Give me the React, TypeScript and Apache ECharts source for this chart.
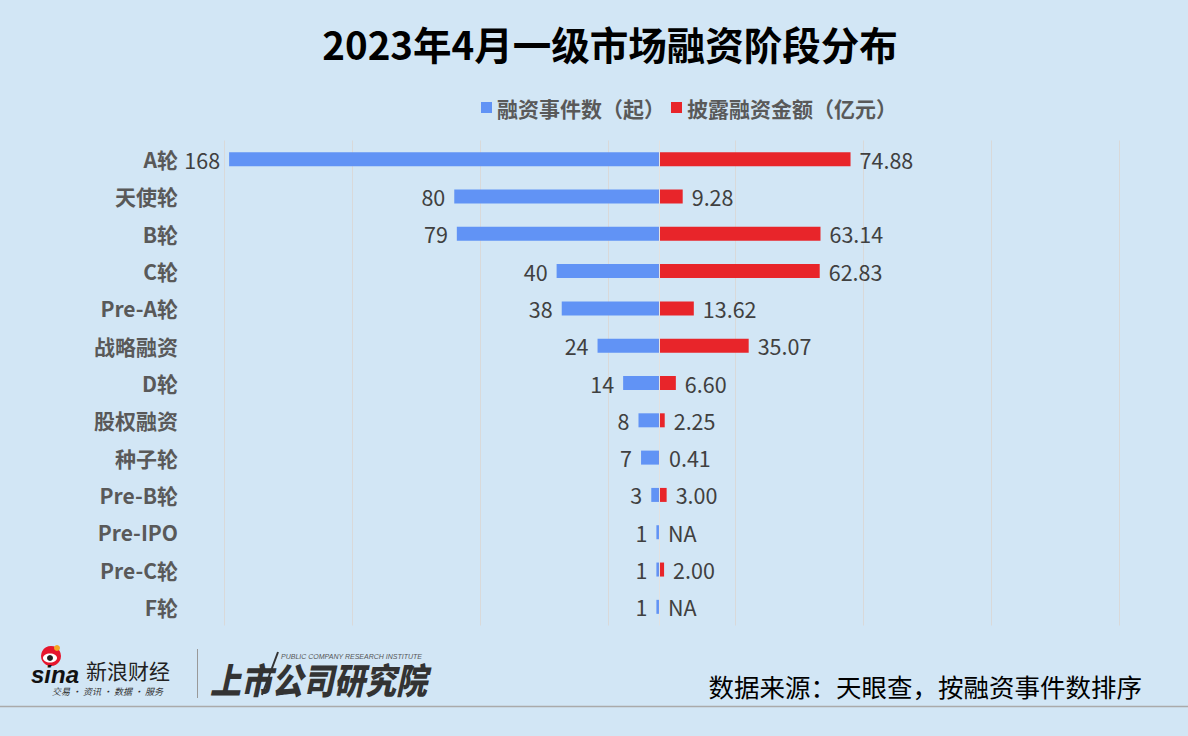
import React, { useEffect, useRef } from "react";
import * as echarts from "echarts";

const categories = ["A轮", "天使轮", "B轮", "C轮", "Pre-A轮", "战略融资", "D轮", "股权融资", "种子轮", "Pre-B轮", "Pre-IPO", "Pre-C轮", "F轮"];
const eventCounts = [168, 80, 79, 40, 38, 24, 14, 8, 7, 3, 1, 1, 1];
const amounts: (number | null)[] = [74.88, 9.28, 63.14, 62.83, 13.62, 35.07, 6.6, 2.25, 0.41, 3.0, null, 2.0, null];
const seriesNames = ["融资事件数（起）", "披露融资金额（亿元）"];
const titleText = "2023年4月一级市场融资阶段分布";
const sourceText = "数据来源：天眼查，按融资事件数排序";

const BLUE = "#6193F5";
const RED = "#E8252A";
const BG = "#D2E6F5";
const FONT = "'Noto Sans CJK SC', 'Noto Sans', sans-serif";

export default function App() {
  const ref = useRef<HTMLDivElement>(null);
  useEffect(() => {
    if (!ref.current) return;
    const chart = echarts.init(ref.current, undefined, { renderer: "svg" });
    const option: any = {
      animation: false,
      backgroundColor: BG,
      textStyle: { fontFamily: FONT },
      legend: {
        left: 481,
        top: 97,
        padding: 0,
        itemWidth: 11,
        itemHeight: 11,
        itemGap: 6,
        icon: "rect",
        textStyle: { fontSize: 21, fontWeight: "bold", color: "#595959", fontFamily: FONT },
        data: seriesNames,
      },
      grid: { left: 224, right: 68.5, top: 140.5, bottom: 110.5, containLabel: false },
      xAxis: [
        { type: "value", min: -170, max: 180, show: false },
        {
          type: "value",
          min: 0,
          max: 350,
          interval: 50,
          position: "top",
          axisLabel: { show: false },
          axisLine: { show: false },
          axisTick: { show: false },
          splitLine: { show: true, lineStyle: { color: "#D9D9D9", width: 1 } },
        },
      ],
      yAxis: {
        type: "category",
        inverse: true,
        data: categories,
        axisLine: { show: false, onZero: false },
        axisTick: { show: false },
        axisLabel: { fontSize: 21, fontWeight: "bold", color: "#595959", margin: 46, fontFamily: FONT },
      },
      series: [
        {
          name: seriesNames[0],
          type: "bar",
          xAxisIndex: 0,
          barWidth: 14,
          barGap: "-100%",
          itemStyle: { color: BLUE },
          data: eventCounts.map((v) => -v),
          label: {
            show: true,
            position: "left",
            distance: 9,
            fontSize: 21.5,
            color: "#404040",
            fontFamily: FONT,
            formatter: (p: any) => String(Math.abs(p.value)),
          },
        },
        {
          name: seriesNames[1],
          type: "bar",
          xAxisIndex: 0,
          barWidth: 14,
          barGap: "-100%",
          itemStyle: { color: RED },
          data: amounts.map((v) => (v === null ? { value: 0, label: { formatter: "NA" } } : v)),
          label: {
            show: true,
            position: "right",
            distance: 9,
            fontSize: 21.5,
            color: "#404040",
            fontFamily: FONT,
            formatter: (p: any) => Number(p.value).toFixed(2),
          },
          markLine: {
            silent: true,
            symbol: "none",
            label: { show: false },
            lineStyle: { color: "#E2E2E2", width: 1, type: "solid" },
            data: [{ xAxis: 0 }],
          },
        },
      ],
      graphic: [
        {
          type: "text",
          x: 610,
          y: 43,
          style: {
            text: titleText,
            font: `bold 38.5px ${FONT}`,
            fill: "#000000",
            textAlign: "center",
            textVerticalAlign: "middle",
          },
        },
        {
          type: "text",
          x: 1142,
          y: 685,
          style: {
            text: sourceText,
            font: `25.5px ${FONT}`,
            fill: "#000000",
            textAlign: "right",
            textVerticalAlign: "middle",
          },
        },
        { type: "line", shape: { x1: 0, y1: 706.5, x2: 1188, y2: 706.5 }, style: { stroke: "#AAAAAA", lineWidth: 1.5 } },
        // sina logo
        { type: "circle", shape: { cx: 51, cy: 656, r: 10 }, style: { fill: "#E6162D" } },
        { type: "circle", shape: { cx: 57, cy: 648, r: 3 }, style: { fill: "#F5A623" } },
        { type: "ellipse", shape: { cx: 50, cy: 658, rx: 7, ry: 4.5 }, style: { fill: "#FFFFFF" } },
        { type: "circle", shape: { cx: 50, cy: 658, r: 3 }, style: { fill: "#222222" } },
        {
          type: "text",
          x: 31,
          y: 674,
          style: { text: "sina", font: `italic bold 24px 'Liberation Sans', sans-serif`, fill: "#111111", textVerticalAlign: "middle" },
        },
        {
          type: "text",
          x: 86,
          y: 670,
          style: { text: "新浪财经", font: `21px ${FONT}`, fill: "#222222", textVerticalAlign: "middle" },
        },
        {
          type: "text",
          x: 52,
          y: 691,
          style: { text: "交易 · 资讯 · 数据 · 服务", font: `italic 9px ${FONT}`, fill: "#333333", textVerticalAlign: "middle" },
        },
        { type: "line", shape: { x1: 197.5, y1: 649, x2: 197.5, y2: 698 }, style: { stroke: "#999999", lineWidth: 1 } },
        {
          type: "text",
          x: 210,
          y: 679,
          scaleY: 1.15,
          style: { text: "上市公司研究院", font: `italic 900 31px ${FONT}`, fill: "#333333", textVerticalAlign: "middle" },
        },
        {
          type: "text",
          x: 281,
          y: 656,
          style: { text: "PUBLIC COMPANY RESEARCH INSTITUTE", font: `italic 7px 'Liberation Sans', sans-serif`, fill: "#555555", textVerticalAlign: "middle" },
        },
        { type: "line", shape: { x1: 262, y1: 695, x2: 278, y2: 652 }, style: { stroke: "#333333", lineWidth: 2 } },
      ],
    };
    chart.setOption(option);
    return () => chart.dispose();
  }, []);
  return <div ref={ref} style={{ position: "fixed", left: 0, top: 0, width: 1188, height: 736 }} />;
}
